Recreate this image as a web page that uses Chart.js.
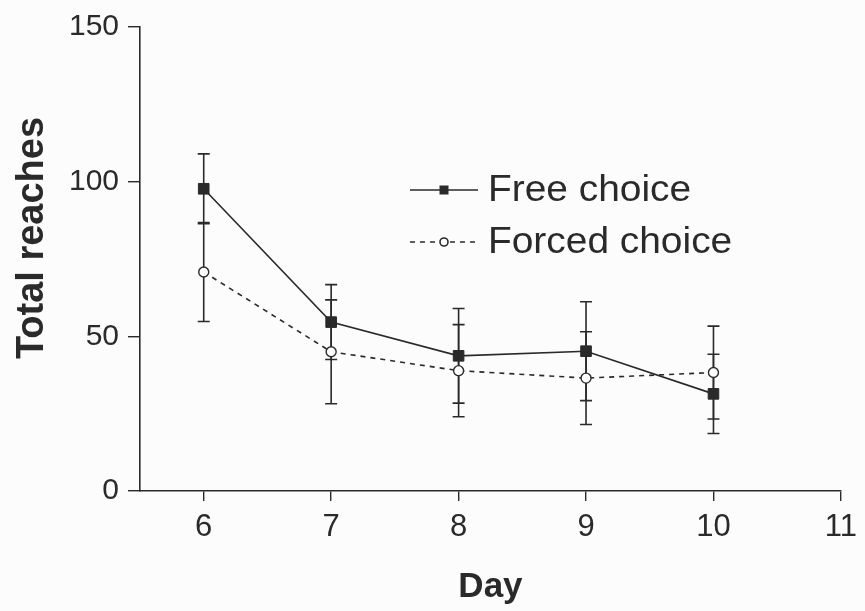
<!DOCTYPE html>
<html>
<head>
<meta charset="utf-8">
<script src="https://cdn.jsdelivr.net/npm/chart.js@4.4.1/dist/chart.umd.min.js"></script>
<style>
  html, body { margin: 0; padding: 0; background: #fcfcfc; }
  #wrap { width: 865px; height: 611px; }
</style>
</head>
<body>
<div id="wrap"><canvas id="c" width="865" height="611"></canvas></div>
<script>
// Days of testing and the mean total reaches per group, with error-bar half widths
const days = [6, 7, 8, 9, 10];
const freeChoice = [97.7, 54.6, 43.7, 45.2, 31.4];
const freeChoiceErr = [11.3, 12.1, 15.3, 16.0, 12.8];
const forcedChoice = [70.8, 45.0, 38.9, 36.5, 38.3];
const forcedChoiceErr = [16.0, 16.8, 14.9, 15.0, 15.0];

const xTicks = [6, 7, 8, 9, 10, 11];
const yTicks = [0, 50, 100, 150];
const seriesNames = ['Free choice', 'Forced choice'];
const xTitle = 'Day';
const yTitle = 'Total reaches';

const ink = '#2a2a2a';
const FONT = '"Liberation Sans", Arial, sans-serif';

const pts = (vals) => days.map((d, i) => ({ x: d, y: vals[i] }));

// Paper-coloured background
const bgPlugin = {
  id: 'bg',
  beforeDraw(chart) {
    const ctx = chart.ctx;
    ctx.save();
    ctx.fillStyle = '#fcfcfc';
    ctx.fillRect(0, 0, chart.width, chart.height);
    ctx.restore();
  }
};

// Vertical error bars with caps, drawn under the markers
const errorBars = {
  id: 'errorBars',
  beforeDatasetsDraw(chart) {
    const ctx = chart.ctx;
    const xs = chart.scales.x, ys = chart.scales.y;
    const sets = [[freeChoice, freeChoiceErr], [forcedChoice, forcedChoiceErr]];
    ctx.save();
    ctx.strokeStyle = ink;
    ctx.lineWidth = 1.6;
    sets.forEach(([vals, errs]) => {
      days.forEach((d, i) => {
        const px = xs.getPixelForValue(d);
        const top = ys.getPixelForValue(vals[i] + errs[i]);
        const bot = ys.getPixelForValue(vals[i] - errs[i]);
        ctx.beginPath();
        ctx.moveTo(px, top); ctx.lineTo(px, bot);
        ctx.moveTo(px - 6, top); ctx.lineTo(px + 6, top);
        ctx.moveTo(px - 6, bot); ctx.lineTo(px + 6, bot);
        ctx.stroke();
      });
    });
    ctx.restore();
  }
};

// Axis titles and the in-plot legend
const annotations = {
  id: 'annotations',
  afterDraw(chart) {
    const ctx = chart.ctx;
    const area = chart.chartArea;
    ctx.save();
    ctx.fillStyle = ink;
    ctx.textBaseline = 'alphabetic';

    // x title
    ctx.font = 'bold 35px ' + FONT;
    ctx.textAlign = 'center';
    ctx.fillText(xTitle, (area.left + area.right) / 2, 597);

    // y title
    ctx.save();
    ctx.translate(43, 238);
    ctx.rotate(-Math.PI / 2);
    ctx.font = 'bold 38px ' + FONT;
    ctx.fillText(yTitle, 0, 0);
    ctx.restore();

    // legend
    const lx0 = 410, lx1 = 478, mid = 444;
    const rows = [190, 242];
    ctx.strokeStyle = ink;
    ctx.lineWidth = 1.6;
    // solid series
    ctx.beginPath();
    ctx.moveTo(lx0, rows[0]); ctx.lineTo(lx1, rows[0]);
    ctx.stroke();
    ctx.fillRect(mid - 4.5, rows[0] - 4.5, 9, 9);
    // dashed series
    ctx.setLineDash([5, 5]);
    ctx.beginPath();
    ctx.moveTo(lx0, rows[1]); ctx.lineTo(mid - 4, rows[1]);
    ctx.moveTo(mid + 6, rows[1]); ctx.lineTo(lx1, rows[1]);
    ctx.stroke();
    ctx.setLineDash([]);
    ctx.beginPath();
    ctx.arc(mid, rows[1], 4, 0, Math.PI * 2);
    ctx.fillStyle = '#fcfcfc';
    ctx.fill();
    ctx.stroke();

    // legend labels, set slightly wide
    ctx.fillStyle = ink;
    ctx.font = '36px ' + FONT;
    ctx.textAlign = 'left';
    ctx.textBaseline = 'middle';
    rows.forEach((y, i) => {
      ctx.save();
      ctx.translate(488, y + 1);
      ctx.scale(1.08, 1);
      ctx.fillText(seriesNames[i], 0, 0);
      ctx.restore();
    });
    ctx.restore();
  }
};

new Chart(document.getElementById('c'), {
  type: 'line',
  data: {
    datasets: [
      {
        label: seriesNames[0],
        data: pts(freeChoice),
        borderColor: ink,
        borderWidth: 1.6,
        pointStyle: 'rect',
        pointRadius: 7.5,
        pointBackgroundColor: ink,
        pointBorderColor: ink,
        pointBorderWidth: 1,
        tension: 0,
        fill: false
      },
      {
        label: seriesNames[1],
        data: pts(forcedChoice),
        borderColor: ink,
        borderWidth: 1.6,
        borderDash: [5, 5],
        pointStyle: 'circle',
        pointRadius: 5,
        pointBackgroundColor: '#ffffff',
        pointBorderColor: ink,
        pointBorderWidth: 1.4,
        tension: 0,
        fill: false
      }
    ]
  },
  options: {
    responsive: false,
    animation: false,
    events: [],
    layout: { padding: { top: 24, right: 24, left: 0, bottom: 0 } },
    plugins: {
      legend: { display: false },
      tooltip: { enabled: false },
      title: { display: false }
    },
    scales: {
      x: {
        type: 'linear',
        min: 5.5,
        max: 11,
        afterFit(scale) { scale.height = 120; },
        afterBuildTicks(scale) { scale.ticks = xTicks.map(v => ({ value: v })); },
        grid: { drawOnChartArea: false, drawTicks: true, tickLength: 10, color: ink, lineWidth: 1.4 },
        border: { display: true, color: ink, width: 1.6 },
        ticks: {
          color: ink,
          font: { family: FONT, size: 31 },
          padding: 8,
          maxRotation: 0,
          autoSkip: false
        }
      },
      y: {
        type: 'linear',
        min: 0,
        max: 150,
        afterFit(scale) { scale.width = 140; },
        afterBuildTicks(scale) { scale.ticks = yTicks.map(v => ({ value: v })); },
        grid: { drawOnChartArea: false, drawTicks: true, tickLength: 12, color: ink, lineWidth: 1.4 },
        border: { display: true, color: ink, width: 1.6 },
        ticks: {
          color: ink,
          font: { family: FONT, size: 30 },
          padding: 9
        }
      }
    }
  },
  plugins: [bgPlugin, errorBars, annotations]
});
</script>
</body>
</html>
